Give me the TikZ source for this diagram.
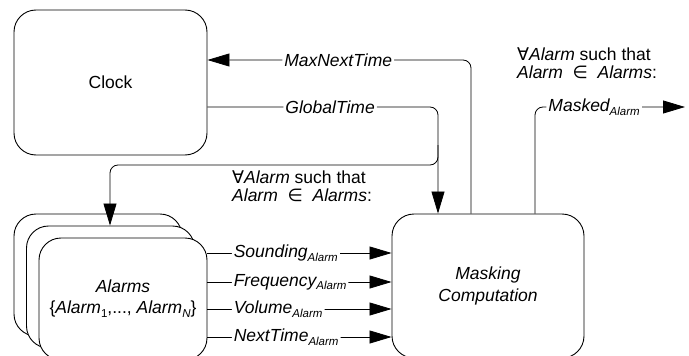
\documentclass[tikz,border=0pt]{standalone}
\usepackage{fontspec}
\setmainfont{Liberation Sans}
\newfontfamily\symfont{DejaVu Sans}
\usetikzlibrary{positioning, arrows.meta}
\newcommand{\sub}[1]{\raisebox{-0.4ex}{\fontsize{11.5}{12}\selectfont #1}}

\begin{document}
\begin{tikzpicture}[x=1pt, y=-1pt,
    every node/.style={font=\fontsize{17.5}{21}\selectfont},
    module/.style={rectangle, draw, rounded corners=22pt, line width=0.9pt,
      fill=white, align=center},
    signal/.style={fill=white, inner sep=2pt, font=\fontsize{17.5}{21}\selectfont\itshape},
    note/.style={align=left, inner sep=0pt, font=\fontsize{17.5}{18}\selectfont},
    arrow/.style={-{Triangle[length=22pt, width=13pt]}, line width=0.8pt,
      rounded corners=8pt}]
    \useasboundingbox (0,0) rectangle (689,356);

    % Blocks
    \node[module, minimum width=193pt, minimum height=145pt] (clock) at (110.5,82.5) {Clock};
    \node[module, minimum width=192pt, minimum height=144pt, font=\fontsize{17.5}{22}\selectfont\itshape]
      (masking) at (488,286) {Masking\\Computation};
    \node[module, minimum width=168pt, minimum height=122pt] (alarmsback) at (98,275) {};
    \node[module, minimum width=168pt, minimum height=122pt] (alarmsmid) at (110.5,287) {};
    \node[module, minimum width=168pt, minimum height=122pt] (alarms) at (123,299)
      {\textit{Alarms}\\\{\textit{Alarm}\sub{1},..., \textit{Alarm\sub{N}}\}};

    % Notes
    \node[note, anchor=north west] (forall) at (232,171)
      {{\symfont ∀}\textit{Alarm} such that\\\textit{Alarm} ~{\symfont ∈}~ \textit{Alarms}:};
    \node[note, anchor=north west] (forallout) at (517,48)
      {{\symfont ∀}\textit{Alarm} such that\\\textit{Alarm} ~{\symfont ∈}~ \textit{Alarms}:};

    % Coordinates
    \coordinate (mnt) at (471,60);
    \coordinate (gt) at (438,107);
    \coordinate (split) at (438,165);
    \coordinate (alarmin) at (110,165);
    \coordinate (maskedout) at (685,107);
    \coordinate (maskedup) at (535,107);

    % Arrows
    \draw[arrow] (masking.north -| mnt) |- node[signal, pos=0.752] {MaxNextTime} (clock.east |- mnt);
    \draw[arrow] (clock.east |- gt) -| node[signal, pos=0.266] {GlobalTime} (masking.north -| gt);
    \draw[arrow] ([yshift=20pt]split) -- (split) -- (alarmin) -- (alarmsmid.north -| alarmin);
    \draw[arrow] (masking.north -| maskedup) |- node[signal, pos=0.697] {Masked\sub{Alarm}} (maskedout);
    \foreach \name/\row in {Sounding/253, Frequency/282, Volume/309, NextTime/337}
      \draw[arrow] (alarms.east |- 0,\row) -- node[signal, anchor=west, pos=0.13] {\name\sub{Alarm}}
        (masking.west |- 0,\row);
  \end{tikzpicture}
\end{document}
